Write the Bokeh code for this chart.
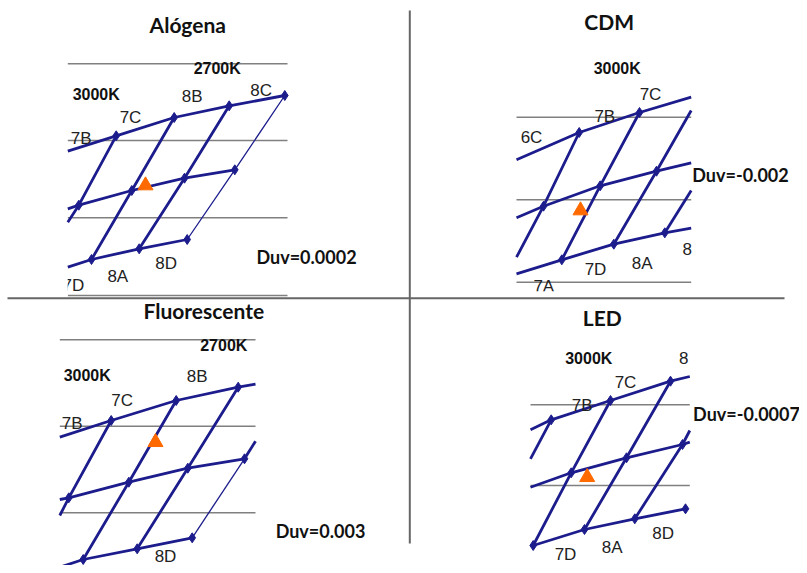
from bokeh.plotting import figure
from bokeh.models import Range1d
from bokeh.core.properties import value
from bokeh.embed import file_html
from bokeh.resources import INLINE

# ---------------- data (picture coordinates, y downward) ----------------
# Alógena
ALO_ROWS_X = [[67.3, 115.7, 173.7, 228.7, 284.3], [67.3, 78.3, 131.3, 184, 234.3], [67.3, 91, 138.7, 186.7]]
ALO_ROWS_Y = [[150.7, 135.3, 117, 105.3, 95], [208.3, 204.7, 190, 177.7, 169.3], [266.7, 259, 248.3, 239]]
ALO_COLS_X = [[67.3, 78.3, 115.7], [91, 131.3, 173.7], [138.7, 184, 228.7]]
ALO_COLS_Y = [[221.7, 204.7, 135.3], [259, 190, 117], [248.3, 177.7, 105.3]]
ALO_THIN_X = [[186.7, 234.3, 284.3]]
ALO_THIN_Y = [[239, 169.3, 95]]
ALO_NODE_X = [115.7, 173.7, 228.7, 284.3, 78.3, 131.3, 184, 234.3, 91, 138.7, 186.7]
ALO_NODE_Y = [135.3, 117, 105.3, 95, 204.7, 190, 177.7, 169.3, 259, 248.3, 239]
ALO_GRAY_Y = [63.3, 140, 217.3, 295]
ALO_GRAY_X = [67.3, 287]

# CDM
CDM_ROWS_X = [[516, 578.7, 639, 690.7], [516, 543, 599.7, 656, 690.7], [516, 561.3, 613.3, 664.3, 690.7]]
CDM_ROWS_Y = [[159.3, 132, 112, 96.7], [217.3, 205.7, 185.3, 170.7, 162.3], [273.3, 259.3, 243.7, 232.3, 227.7]]
CDM_COLS_X = [[516, 543, 578.7], [561.3, 599.7, 639], [613.3, 656, 690.7], [664.3, 690.7]]
CDM_COLS_Y = [[256.7, 205.7, 132], [259.3, 185.3, 112], [243.7, 170.7, 110], [232.3, 190]]
CDM_NODE_X = [578.7, 639, 543, 599.7, 656, 561.3, 613.3, 664.3]
CDM_NODE_Y = [132, 112, 205.7, 185.3, 170.7, 259.3, 243.7, 232.3]
CDM_GRAY_Y = [116.7, 199.3, 281.7]
CDM_GRAY_X = [516, 690.7]

# Fluorescente
FLU_ROWS_X = [[59.3, 110.7, 175.7, 237.7, 255], [59.3, 68.3, 128.3, 187.3, 244], [59.3, 82.7, 136.7, 191.7]]
FLU_ROWS_Y = [[436.7, 420, 400, 386.7, 383.7], [499, 497.3, 481.7, 467.7, 458.3], [566.7, 559, 548.3, 537.3]]
FLU_COLS_X = [[59.3, 68.3, 110.7], [82.7, 128.3, 175.7], [136.7, 187.3, 237.7], [244, 255]]
FLU_COLS_Y = [[515, 497.3, 420], [559, 481.7, 400], [548.3, 467.7, 386.7], [458.3, 440.7]]
FLU_THIN_X = [[191.7, 244]]
FLU_THIN_Y = [[537.3, 458.3]]
FLU_NODE_X = [110.7, 175.7, 237.7, 68.3, 128.3, 187.3, 244, 82.7, 136.7, 191.7]
FLU_NODE_Y = [420, 400, 386.7, 497.3, 481.7, 467.7, 458.3, 559, 548.3, 537.3]
FLU_GRAY_Y = [339.3, 425.7, 512.3]
FLU_GRAY_X = [59.3, 255]

# LED
LED_ROWS_X = [[530, 550.7, 610, 670, 689.3], [530, 570.7, 626, 682, 689.3], [532.7, 584, 634.3, 685]]
LED_ROWS_Y = [[429.3, 419.3, 400, 380.7, 376], [486.7, 472.3, 457.3, 444, 441.7], [545, 529, 518.3, 508.3]]
LED_COLS_X = [[530, 550.7], [532.7, 570.7, 610], [584, 626, 670], [634.3, 682, 689.3]]
LED_COLS_Y = [[458.3, 419.3], [545, 472.3, 400], [529, 457.3, 380.7], [518.3, 444, 430]]
LED_NODE_X = [550.7, 610, 670, 570.7, 626, 682, 532.7, 584, 634.3, 685]
LED_NODE_Y = [419.3, 400, 380.7, 472.3, 457.3, 444, 545, 529, 518.3, 508.3]
LED_GRAY_Y = [404.3, 485]
LED_GRAY_X = [530, 689.3]

# measured points (triangles)
MEAS_X = [145, 580, 155, 586.7]
MEAS_Y = [185, 210, 441.7, 476.7]

# texts
TITLES = ["Alógena", "CDM", "Fluorescente", "LED"]
TITLE_X = [187.3, 608.7, 203.3, 601.7]
TITLE_Y = [24, 20.7, 310, 316.7]

DUV_TEXT = ["Duv=0.0002", "Duv=-0.002", "Duv=0.003", "Duv=-0.0007"]
DUV_X = [306, 740, 320, 746]
DUV_Y = [256.7, 174, 530, 413.3]

CCT_TEXT = ["2700K", "3000K", "3000K", "2700K", "3000K", "3000K"]
CCT_X = [216.7, 95.7, 616.7, 223.3, 86.7, 588.3]
CCT_Y = [68.3, 94, 68.3, 345, 375, 357.7]

BIN_TEXT = ["8B", "8C", "7C", "7B", "8D", "8A", "7D",
            "7C", "7B", "6C", "8", "8A", "7D", "7A",
            "8B", "7C", "7B", "8D",
            "8", "7C", "7B", "8D", "8A", "7D"]
BIN_X = [191.7, 260.7, 130, 80.7, 165.7, 117.3, 72.8,
         650, 604.3, 531, 686.7, 641.7, 595, 543.3,
         196.7, 121.7, 71.7, 165,
         683.3, 625, 581.7, 662.7, 611.7, 565]
BIN_Y = [95.7, 90, 117.3, 137.7, 263.3, 276.3, 285,
         94, 116, 136.7, 248.3, 263.3, 269.3, 286,
         375.7, 400, 423.3, 555.5,
         357.7, 382.3, 405, 533.3, 546.7, 554]

# ---------------- figure ----------------
NAVY = "#1c1c8c"
p = figure(width=799, height=565, x_range=Range1d(0, 799), y_range=Range1d(565, 0),
           output_backend="svg", toolbar_location=None, x_axis_location=None,
           y_axis_location=None, min_border=0, outline_line_color=None,
           background_fill_color="white", border_fill_color="white")
p.grid.visible = False

panels = [
    (ALO_ROWS_X, ALO_ROWS_Y, ALO_COLS_X, ALO_COLS_Y, ALO_THIN_X, ALO_THIN_Y, ALO_NODE_X, ALO_NODE_Y, ALO_GRAY_X, ALO_GRAY_Y),
    (CDM_ROWS_X, CDM_ROWS_Y, CDM_COLS_X, CDM_COLS_Y, [], [], CDM_NODE_X, CDM_NODE_Y, CDM_GRAY_X, CDM_GRAY_Y),
    (FLU_ROWS_X, FLU_ROWS_Y, FLU_COLS_X, FLU_COLS_Y, FLU_THIN_X, FLU_THIN_Y, FLU_NODE_X, FLU_NODE_Y, FLU_GRAY_X, FLU_GRAY_Y),
    (LED_ROWS_X, LED_ROWS_Y, LED_COLS_X, LED_COLS_Y, [], [], LED_NODE_X, LED_NODE_Y, LED_GRAY_X, LED_GRAY_Y),
]

for rx, ry, cx, cy, tx, ty, nx, ny, gx, gy in panels:
    p.multi_line([gx for _ in gy], [[y, y] for y in gy], line_color="#808080", line_width=1.5)
    p.multi_line(rx + cx, ry + cy, line_color=NAVY, line_width=2.8)
    if tx:
        p.multi_line(tx, ty, line_color=NAVY, line_width=1.3)
    p.scatter(nx, ny, marker="diamond", size=10, color=NAVY)

p.scatter(MEAS_X, MEAS_Y, marker="triangle", size=15, color="#ff6a00")

p.text(BIN_X, BIN_Y, text=BIN_TEXT, text_font=value("Liberation Sans"), text_font_size="17px",
       text_align="center", text_baseline="middle", text_color="#222222")
p.text(CCT_X, CCT_Y, text=CCT_TEXT, text_font=value("Liberation Sans"), text_font_size="16px",
       text_font_style="bold", text_align="center", text_baseline="middle", text_color="#111111")

# white masks: crop edges of the pictured charts
p.quad(left=[58, 520], right=[67.2, 575], top=[272, 290.8],
       bottom=[296, 296.5], fill_color="white", line_color=None)

p.text(TITLE_X, TITLE_Y, text=TITLES, text_font=value("Lato"), text_font_size="21px",
       text_font_style="bold", text_align="center", text_baseline="middle", text_color="#111111")
p.text(DUV_X, DUV_Y, text=DUV_TEXT, text_font=value("Lato"), text_font_size="18px",
       text_font_style="bold", text_align="center", text_baseline="middle", text_color="#111111")

# panel separators
p.segment(x0=[409.3, 7], y0=[10, 297.7], x1=[409.3, 784], y1=[543, 297.7],
          line_color="#666666", line_width=2)

open("out.html", "w").write(file_html(p, INLINE))
